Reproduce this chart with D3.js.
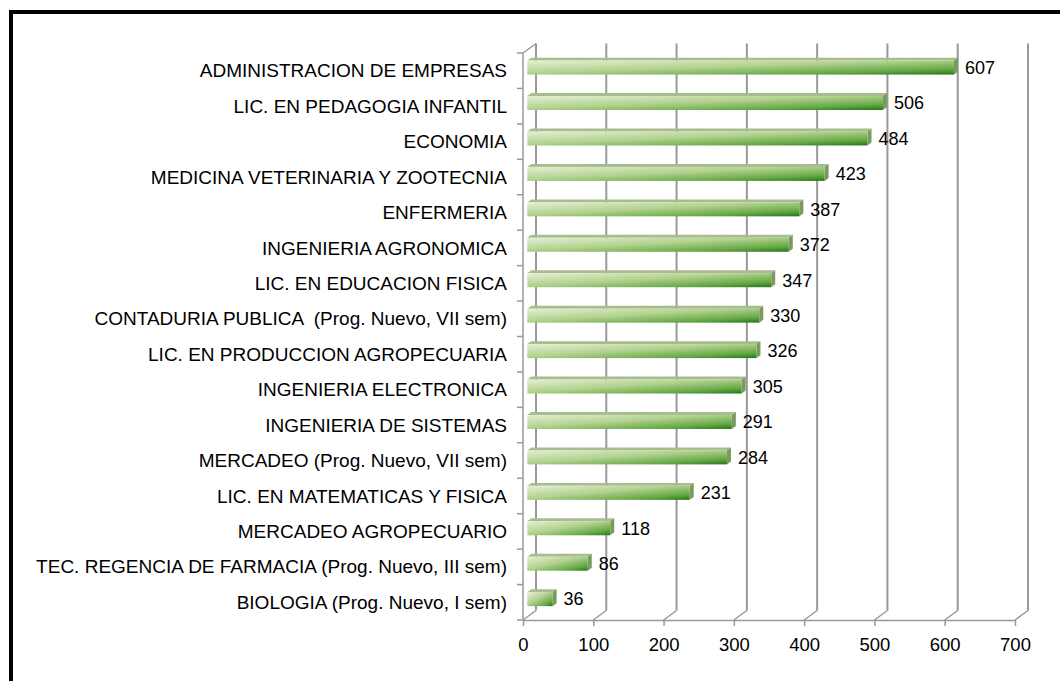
<!DOCTYPE html>
<html>
<head>
<meta charset="utf-8">
<script src="https://cdn.jsdelivr.net/npm/d3@7"></script>
<style>
  html, body { margin: 0; padding: 0; background: #fff; }
  svg { display: block; font-family: "Liberation Sans", Arial, sans-serif; }
</style>
</head>
<body>
<div id="chart"></div>
<script>
const categories = [
  "ADMINISTRACION DE EMPRESAS",
  "LIC. EN PEDAGOGIA INFANTIL",
  "ECONOMIA",
  "MEDICINA VETERINARIA Y ZOOTECNIA",
  "ENFERMERIA",
  "INGENIERIA AGRONOMICA",
  "LIC. EN EDUCACION FISICA",
  "CONTADURIA PUBLICA  (Prog. Nuevo, VII sem)",
  "LIC. EN PRODUCCION AGROPECUARIA",
  "INGENIERIA ELECTRONICA",
  "INGENIERIA DE SISTEMAS",
  "MERCADEO (Prog. Nuevo, VII sem)",
  "LIC. EN MATEMATICAS Y FISICA",
  "MERCADEO AGROPECUARIO",
  "TEC. REGENCIA DE FARMACIA (Prog. Nuevo, III sem)",
  "BIOLOGIA (Prog. Nuevo, I sem)"
];
const values = [607, 506, 484, 423, 387, 372, 347, 330, 326, 305, 291, 284, 231, 118, 86, 36];
const ticks = [0, 100, 200, 300, 400, 500, 600, 700];

const W = 1060, H = 681;
const svg = d3.select("#chart").append("svg")
  .attr("width", W)
  .attr("height", H);

// 3D depth offset of the back wall
const DX = 13, DY = -9.5;
const f0 = 0.33, f1 = 0.64; // bar front / back depth

const x = d3.scaleLinear().domain([0, 700]).range([523, 1015]);
const y = d3.scaleBand().domain(categories).range([53, 620]);
const yTop = y.range()[0], yBottom = y.range()[1];

const defs = svg.append("defs");
const grad = defs.append("linearGradient")
  .attr("id", "barGrad")
  .attr("x1", 0).attr("y1", 0).attr("x2", 1).attr("y2", 1);
grad.append("stop").attr("offset", "0").attr("stop-color", "#e4efd6");
grad.append("stop").attr("offset", "0.45").attr("stop-color", "#b2d28e");
grad.append("stop").attr("offset", "0.8").attr("stop-color", "#66a845");
grad.append("stop").attr("offset", "1").attr("stop-color", "#237719");

// frame
svg.append("line").attr("x1", 9).attr("x2", W).attr("y1", 12).attr("y2", 12)
  .attr("stroke", "#000").attr("stroke-width", 4);
svg.append("line").attr("x1", 11).attr("x2", 11).attr("y1", 10).attr("y2", H)
  .attr("stroke", "#000").attr("stroke-width", 4);

const gridColor = "#999";

// back wall gridlines + floor diagonals
const grid = svg.append("g");
ticks.forEach(t => {
  grid.append("line")
    .attr("x1", x(t) + DX).attr("x2", x(t) + DX)
    .attr("y1", yTop + DY).attr("y2", yBottom + DY)
    .attr("stroke", gridColor).attr("stroke-width", 2);
  grid.append("line")
    .attr("x1", x(t)).attr("y1", yBottom)
    .attr("x2", x(t) + DX).attr("y2", yBottom + DY)
    .attr("stroke", gridColor).attr("stroke-width", 1.5);
});

// left wall top edge
grid.append("line")
  .attr("x1", x(0)).attr("y1", yTop)
  .attr("x2", x(0) + DX).attr("y2", yTop + DY)
  .attr("stroke", gridColor).attr("stroke-width", 1.5);

// front left axis
svg.append("line")
  .attr("x1", x(0)).attr("x2", x(0))
  .attr("y1", yTop).attr("y2", yBottom)
  .attr("stroke", gridColor).attr("stroke-width", 1.5);
const bounds = categories.map(c => y(c)).concat([yBottom]);
svg.selectAll(".ytick")
  .data(bounds)
  .enter().append("line")
  .attr("x1", x(0) - 6).attr("x2", x(0))
  .attr("y1", d => d).attr("y2", d => d)
  .attr("stroke", gridColor).attr("stroke-width", 1.5);

// bottom axis
const xAxis = svg.append("g")
  .attr("transform", `translate(0,${yBottom})`)
  .call(d3.axisBottom(x).tickValues(ticks).tickSize(6).tickSizeOuter(0).tickPadding(12));
xAxis.select(".domain").attr("stroke", gridColor).attr("stroke-width", 1.5);
xAxis.selectAll(".tick line").attr("stroke", gridColor).attr("stroke-width", 1.5);
xAxis.selectAll("text")
  .attr("fill", "#000")
  .style("font-size", "18.5px")
  .style("font-family", "'Liberation Sans', Arial, sans-serif");

// bars
const bh = 14;
const bars = svg.selectAll(".bar")
  .data(categories.map((c, i) => ({ name: c, value: values[i] })))
  .enter().append("g")
  .attr("class", "bar");

const fy = d => y(d.name) + y.bandwidth() / 2 - bh / 2 + DY * f0; // front face top
const x0 = x(0) + DX * f0;
const xe = d => x(d.value) + DX * f0;
const ddx = DX * (f1 - f0), ddy = DY * (f1 - f0);

// top face
bars.append("polygon")
  .attr("points", d => [
    [x0, fy(d)], [x0 + ddx, fy(d) + ddy],
    [xe(d) + ddx, fy(d) + ddy], [xe(d), fy(d)]
  ].map(p => p.join(",")).join(" "))
  .attr("fill", "#a9bc8e");

// end cap
bars.append("polygon")
  .attr("points", d => [
    [xe(d), fy(d)], [xe(d) + ddx, fy(d) + ddy],
    [xe(d) + ddx, fy(d) + ddy + bh], [xe(d), fy(d) + bh]
  ].map(p => p.join(",")).join(" "))
  .attr("fill", "#7a9a5e");

// front face
bars.append("rect")
  .attr("x", x0)
  .attr("y", d => fy(d))
  .attr("width", d => x(d.value) - x(0))
  .attr("height", bh)
  .attr("fill", "url(#barGrad)");

// value labels
bars.append("text")
  .attr("x", d => xe(d) + ddx + 7)
  .attr("y", d => fy(d) + bh / 2)
  .attr("dy", "0.35em")
  .style("font-size", "18px")
  .attr("fill", "#000")
  .text(d => d.value);

// category labels
svg.selectAll(".cat")
  .data(categories)
  .enter().append("text")
  .attr("class", "cat")
  .attr("x", 507)
  .attr("y", d => y(d) + y.bandwidth() / 2)
  .attr("dy", "0.35em")
  .attr("text-anchor", "end")
  .style("font-size", "19px")
  .style("white-space", "pre")
  .attr("fill", "#000")
  .text(d => d);
</script>
</body>
</html>
